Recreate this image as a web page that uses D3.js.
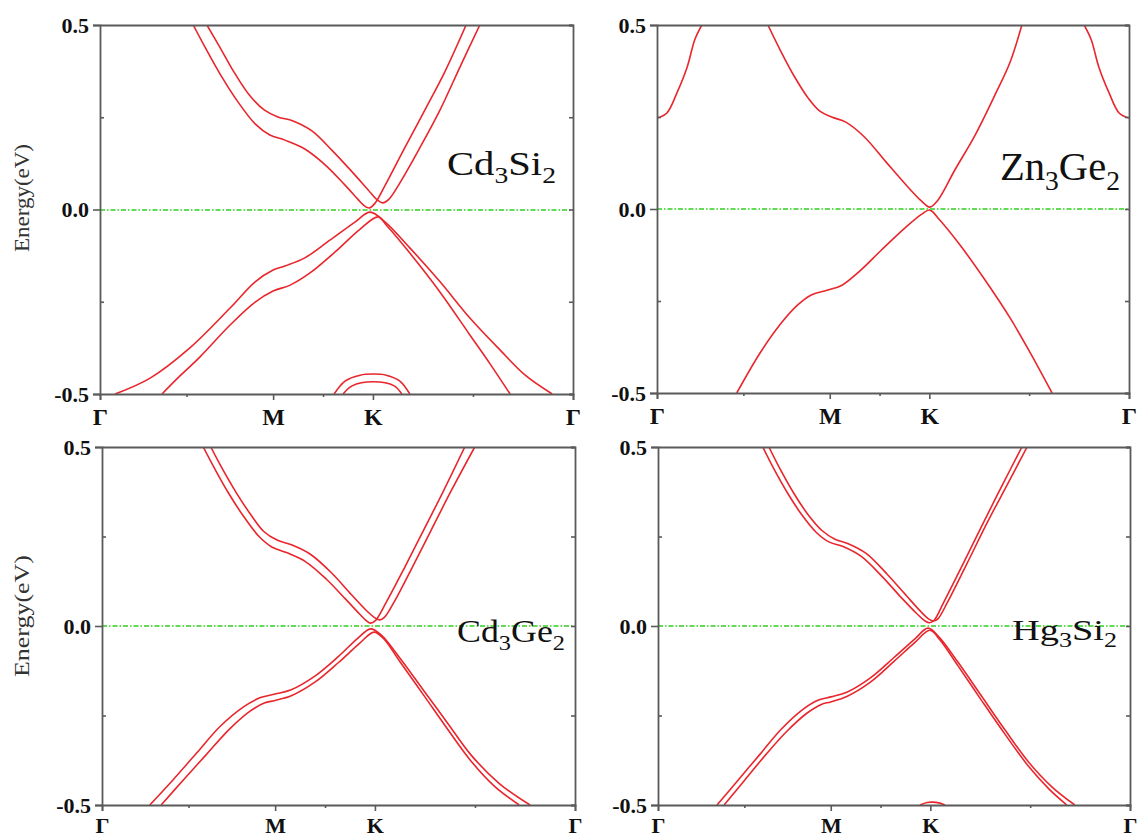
<!DOCTYPE html>
<html><head><meta charset="utf-8">
<script src="https://cdn.jsdelivr.net/npm/d3@7"></script>
<style>body{margin:0;background:#fff}</style>
</head><body>
<svg id="c" width="1138" height="838"></svg>
<script>
// ---- k-path and ticks ----
const kPoints = [0, 0.366, 0.577, 1];
const kLabels = ["Γ", "M", "K", "Γ"];
const kMinor = [0.183, 0.4715, 0.7885];
const eTicks = [-0.5, 0, 0.5];
const eLabels = ["-0.5", "0.0", "0.5"];
const eMinor = [-0.25, 0.25];

// ---- Cd3Si2 bands [k, E(eV)] ----
const cd3si2_cb1 = [[0.197,0.5],[0.222,0.440],[0.254,0.367],[0.292,0.291],[0.328,0.232],[0.359,0.202],[0.391,0.188],[0.433,0.164],[0.476,0.121],[0.518,0.066],[0.545,0.028],[0.556,0.013],[0.569,0.004],[0.582,0.018],[0.603,0.066],[0.645,0.169],[0.687,0.270],[0.729,0.373],[0.774,0.5]];
const cd3si2_cb2 = [[0.226,0.5],[0.252,0.443],[0.283,0.373],[0.317,0.308],[0.347,0.270],[0.376,0.251],[0.408,0.240],[0.448,0.213],[0.490,0.161],[0.533,0.102],[0.567,0.053],[0.586,0.026],[0.598,0.018],[0.611,0.028],[0.634,0.072],[0.677,0.169],[0.719,0.270],[0.761,0.386],[0.803,0.5]];
const cd3si2_vb1 = [[0.032,-0.5],[0.106,-0.457],[0.190,-0.375],[0.275,-0.267],[0.328,-0.196],[0.366,-0.164],[0.391,-0.153],[0.433,-0.131],[0.486,-0.083],[0.539,-0.034],[0.571,-0.007],[0.603,-0.034],[0.655,-0.104],[0.719,-0.196],[0.782,-0.294],[0.846,-0.381],[0.899,-0.449],[0.956,-0.5]];
const cd3si2_vb2 = [[0.131,-0.5],[0.169,-0.451],[0.211,-0.400],[0.275,-0.313],[0.328,-0.251],[0.366,-0.221],[0.402,-0.205],[0.444,-0.172],[0.497,-0.115],[0.550,-0.053],[0.588,-0.020],[0.605,-0.042],[0.655,-0.118],[0.719,-0.224],[0.782,-0.340],[0.825,-0.419],[0.867,-0.5]];
const cd3si2_arc1 = [[0.495,-0.5],[0.518,-0.465],[0.550,-0.449],[0.577,-0.446],[0.605,-0.449],[0.634,-0.465],[0.655,-0.5]];
const cd3si2_arc2 = [[0.514,-0.5],[0.533,-0.478],[0.577,-0.467],[0.622,-0.478],[0.638,-0.5]];

// ---- Zn3Ge2 bands ----
const zn3ge2_g1 = [[0,0.247],[0.021,0.261],[0.042,0.315],[0.064,0.386],[0.080,0.460],[0.095,0.5]];
const zn3ge2_g2 = [[0.905,0.5],[0.920,0.460],[0.936,0.386],[0.958,0.315],[0.979,0.261],[1,0.247]];
const zn3ge2_cb = [[0.235,0.5],[0.261,0.432],[0.292,0.358],[0.320,0.302],[0.345,0.266],[0.370,0.250],[0.400,0.236],[0.440,0.195],[0.485,0.128],[0.530,0.062],[0.560,0.022],[0.578,0.005],[0.595,0.024],[0.631,0.106],[0.674,0.201],[0.716,0.310],[0.748,0.399],[0.773,0.5]];
const zn3ge2_vb = [[0.169,-0.5],[0.218,-0.392],[0.262,-0.312],[0.297,-0.262],[0.328,-0.233],[0.360,-0.221],[0.392,-0.207],[0.430,-0.168],[0.475,-0.112],[0.525,-0.052],[0.561,-0.014],[0.578,-0.003],[0.599,-0.030],[0.642,-0.098],[0.695,-0.193],[0.748,-0.296],[0.790,-0.389],[0.837,-0.5]];

// ---- Cd3Ge2 bands ----
const cd3ge2_cb1 = [[0.214,0.5],[0.238,0.44],[0.268,0.37],[0.300,0.305],[0.332,0.250],[0.360,0.220],[0.390,0.205],[0.430,0.180],[0.475,0.130],[0.515,0.075],[0.545,0.033],[0.558,0.016],[0.568,0.008],[0.578,0.015],[0.600,0.064],[0.640,0.164],[0.680,0.268],[0.720,0.372],[0.767,0.5]];
const cd3ge2_cb2 = [[0.230,0.5],[0.254,0.44],[0.284,0.372],[0.314,0.312],[0.342,0.264],[0.370,0.240],[0.402,0.226],[0.442,0.199],[0.487,0.146],[0.527,0.088],[0.560,0.042],[0.578,0.022],[0.587,0.017],[0.597,0.024],[0.618,0.068],[0.656,0.164],[0.696,0.268],[0.740,0.382],[0.788,0.5]];
const cd3ge2_vb1 = [[0.101,-0.5],[0.15,-0.43],[0.20,-0.355],[0.25,-0.28],[0.30,-0.225],[0.335,-0.2],[0.366,-0.19],[0.40,-0.178],[0.45,-0.14],[0.50,-0.085],[0.54,-0.035],[0.568,-0.008],[0.59,-0.025],[0.63,-0.09],[0.68,-0.18],[0.73,-0.27],[0.78,-0.36],[0.84,-0.44],[0.905,-0.5]];
const cd3ge2_vb2 = [[0.125,-0.5],[0.172,-0.43],[0.220,-0.36],[0.268,-0.29],[0.313,-0.238],[0.343,-0.215],[0.366,-0.208],[0.40,-0.195],[0.45,-0.157],[0.50,-0.102],[0.545,-0.048],[0.575,-0.017],[0.595,-0.035],[0.63,-0.10],[0.68,-0.193],[0.73,-0.287],[0.78,-0.377],[0.83,-0.448],[0.882,-0.5]];

// ---- Hg3Si2 bands ----
const hg3si2_cb1 = [[0.222,0.5],[0.245,0.44],[0.275,0.37],[0.305,0.31],[0.335,0.262],[0.362,0.235],[0.392,0.222],[0.43,0.195],[0.475,0.138],[0.515,0.08],[0.548,0.035],[0.566,0.014],[0.575,0.009],[0.585,0.016],[0.605,0.065],[0.645,0.17],[0.69,0.29],[0.73,0.395],[0.771,0.5]];
const hg3si2_cb2 = [[0.235,0.5],[0.258,0.44],[0.288,0.37],[0.318,0.311],[0.348,0.266],[0.374,0.243],[0.403,0.230],[0.441,0.203],[0.486,0.144],[0.526,0.085],[0.557,0.04],[0.574,0.019],[0.583,0.014],[0.593,0.020],[0.614,0.068],[0.653,0.17],[0.698,0.29],[0.740,0.395],[0.782,0.5]];
const hg3si2_vb1 = [[0.125,-0.5],[0.17,-0.43],[0.215,-0.36],[0.26,-0.29],[0.305,-0.235],[0.34,-0.207],[0.366,-0.198],[0.40,-0.185],[0.45,-0.145],[0.50,-0.088],[0.545,-0.035],[0.572,-0.006],[0.595,-0.03],[0.635,-0.10],[0.685,-0.195],[0.735,-0.29],[0.785,-0.38],[0.835,-0.45],[0.883,-0.5]];
const hg3si2_vb2 = [[0.140,-0.5],[0.184,-0.43],[0.228,-0.36],[0.273,-0.294],[0.316,-0.243],[0.346,-0.219],[0.366,-0.212],[0.40,-0.197],[0.45,-0.157],[0.50,-0.099],[0.545,-0.045],[0.576,-0.012],[0.597,-0.038],[0.635,-0.110],[0.685,-0.207],[0.735,-0.302],[0.785,-0.392],[0.828,-0.455],[0.866,-0.5]];
const hg3si2_arc = [[0.555,-0.5],[0.570,-0.493],[0.582,-0.492],[0.595,-0.494],[0.608,-0.5]];

// ---- panels ----
const panels = [
  {formula:[["Cd",""],["3","s"],["Si",""],["2","s"]], fs:33, tl:109, lx:447, ly:175, box:{x0:100,x1:573,y0:25,y1:394}, ylab:{cy:198, len:108, fs:21},
   xfs:24, xpad:8, bands:[cd3si2_cb1,cd3si2_cb2,cd3si2_vb1,cd3si2_vb2,cd3si2_arc1,cd3si2_arc2]},
  {formula:[["Zn",""],["3","s"],["Ge",""],["2","s"]], fs:40, tl:120, lx:1000, ly:180, box:{x0:657,x1:1129,y0:25,y1:393}, ylab:null,
   xfs:24, xpad:8, bands:[zn3ge2_g1,zn3ge2_g2,zn3ge2_cb,zn3ge2_vb]},
  {formula:[["Cd",""],["3","s"],["Ge",""],["2","s"]], fs:32, tl:108, lx:457, ly:642, box:{x0:102,x1:575,y0:447,y1:805}, ylab:{cy:616, len:122, fs:22},
   xfs:22, xpad:6, bands:[cd3ge2_cb1,cd3ge2_cb2,cd3ge2_vb1,cd3ge2_vb2]},
  {formula:[["Hg",""],["3","s"],["Si",""],["2","s"]], fs:30, tl:105, lx:1012, ly:640, box:{x0:658,x1:1130,y0:447,y1:805}, ylab:null,
   xfs:22, xpad:6, bands:[hg3si2_cb1,hg3si2_cb2,hg3si2_vb1,hg3si2_vb2,hg3si2_arc]}
];

const svg = d3.select("#c");
const red = "#e8262c";
const axisCol = "#5a5a5a";
const serif = "'Liberation Serif', 'Times New Roman', serif";

panels.forEach((p, i) => {
  const b = p.box;
  const x = d3.scaleLinear().domain([0, 1]).range([b.x0, b.x1]);
  const y = d3.scaleLinear().domain([-0.5, 0.5]).range([b.y1, b.y0]);
  const g = svg.append("g");
  const cid = "clip" + i;
  g.append("clipPath").attr("id", cid).append("rect")
    .attr("x", b.x0).attr("y", b.y0).attr("width", b.x1 - b.x0).attr("height", b.y1 - b.y0);

  // bands
  const line = d3.line().x(d => x(d[0])).y(d => y(d[1])).curve(d3.curveCatmullRom.alpha(0.5));
  g.append("g").attr("clip-path", `url(#${cid})`).selectAll("path").data(p.bands).join("path")
    .attr("d", line).attr("fill", "none").attr("stroke", red).attr("stroke-width", 1.6);

  // zero (Fermi) line
  const yz = Math.round(y(0));
  g.append("line").attr("x1", x(0)).attr("x2", x(1)).attr("y1", yz).attr("y2", yz)
    .style("stroke", "#62dc55").style("stroke-width", "2px").style("stroke-dasharray", "5,2,1.5,2");

  // axes
  const xb = d3.axisBottom(x).tickValues(kPoints).tickFormat((d, j) => kLabels[j]).tickSize(6).tickPadding(p.xpad);
  const gx = g.append("g").attr("transform", `translate(0,${b.y1})`).call(xb);
  const xm = d3.axisBottom(x).tickValues(kMinor).tickFormat("").tickSize(3);
  g.append("g").attr("transform", `translate(0,${b.y1})`).call(xm).select(".domain").remove();
  const yl = d3.axisLeft(y).tickValues(eTicks).tickFormat((d, j) => eLabels[j]).tickSize(7).tickPadding(4);
  const gy = g.append("g").attr("transform", `translate(${b.x0},0)`).call(yl);
  const ym = d3.axisLeft(y).tickValues(eMinor).tickFormat("").tickSize(-4);
  g.append("g").attr("transform", `translate(${b.x0},0)`).call(ym).select(".domain").remove();
  const yr = d3.axisRight(y).tickValues(eTicks.concat(eMinor)).tickFormat("").tickSize(-4);
  g.append("g").attr("transform", `translate(${b.x1},0)`).call(yr);
  const xt = d3.axisTop(x).tickValues([]).tickSize(0);
  g.append("g").attr("transform", `translate(0,${b.y0})`).call(xt);

  g.selectAll(".domain").attr("stroke", axisCol).attr("stroke-width", 1.8);
  g.selectAll(".tick line").attr("stroke", axisCol).attr("stroke-width", 1.6);
  gx.selectAll("text").attr("font-family", serif).attr("font-weight", "bold")
    .attr("font-size", p.xfs).attr("fill", "#111");
  gy.selectAll("text").attr("font-family", serif).attr("font-weight", "bold")
    .attr("font-size", 22).attr("fill", "#111");

  // formula label
  const t = g.append("text").attr("x", p.lx).attr("y", p.ly)
    .attr("font-family", serif).attr("font-size", p.fs).attr("fill", "#111")
    .attr("textLength", p.tl).attr("lengthAdjust", "spacingAndGlyphs");
  p.formula.forEach(([s, k], j) => {
    const ts = t.append("tspan").text(s);
    if (k === "s") ts.attr("font-size", p.fs * 0.68).attr("dy", p.fs * 0.24);
    else if (j > 0) ts.attr("dy", -p.fs * 0.24);
  });

  if (p.ylab) {
    g.append("text").attr("transform", `translate(29,${p.ylab.cy}) rotate(-90)`)
      .attr("text-anchor", "middle").attr("font-family", serif)
      .attr("font-size", p.ylab.fs).attr("fill", "#333")
      .attr("textLength", p.ylab.len).attr("lengthAdjust", "spacingAndGlyphs")
      .text("Energy(eV)");
  }
});
</script>
</body></html>
